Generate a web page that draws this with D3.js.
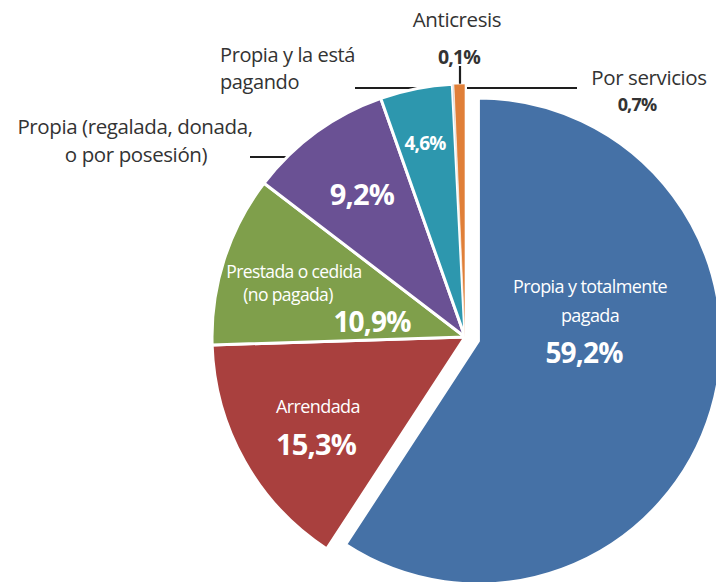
<!DOCTYPE html>
<html>
<head>
<meta charset="utf-8">
<script src="https://cdn.jsdelivr.net/npm/d3@7"></script>
<style>
  html, body { margin: 0; padding: 0; background: #fff; }
  svg { display: block; }
</style>
</head>
<body>
<svg id="chart" width="716" height="582"></svg>
<script>
// Tipo de tenencia de la vivienda (%)
const categories = [
  "Propia y totalmente pagada",
  "Arrendada",
  "Prestada o cedida (no pagada)",
  "Propia (regalada, donada, o por posesión)",
  "Propia y la está pagando",
  "Anticresis",
  "Por servicios"
];
const shares = [59.2, 15.3, 10.9, 9.2, 4.6, 0.1, 0.7];
const sliceColors = ["#4571a6", "#a9403e", "#7f9f4b", "#6a5194", "#2d97ae", "#c9c9c9", "#e07f38"];

// Label text per slice: name lines inside or outside the pie
const nameLines = [
  ["Propia y totalmente", "pagada"],
  ["Arrendada"],
  ["Prestada o cedida", "(no pagada)"],
  ["Propia (regalada, donada,", "o por posesión)"],
  ["Propia y la está", "pagando"],
  ["Anticresis"],
  ["Por servicios"]
];

const fmt = v => d3.format(".1f")(v).replace(".", ",") + "%";

// ---- layout ----
const cx = 465, cy = 337;
const R = 253;          // radius of the attached slices
const R_EXPLODED = 243; // radius of the pulled-out slice
const EXPLODE = 14;

const svg = d3.select("#chart");
const g = svg.append("g").attr("transform", `translate(${cx},${cy})`);

const pie = d3.pie().sort(null).value(d => d);
const arcs = pie(shares);

const arcSmall = d3.arc().innerRadius(0).outerRadius(R);
const arcBig = d3.arc().innerRadius(0).outerRadius(R_EXPLODED);

// point on the rim of the pie for a leader at height dy (left side) or at dx (top)
const rimX = dy => -Math.sqrt(R * R - dy * dy);
const rimY = dx => -Math.sqrt(R * R - dx * dx);

// leader lines, coordinates relative to the pie centre
const leaders = [
  { x1: 355 - cx, y1: 88 - cy, x2: rimX(88 - cy), y2: 88 - cy },
  { x1: 250 - cx, y1: 157 - cy, x2: rimX(157 - cy), y2: 157 - cy },
  { x1: 460 - cx, y1: 66 - cy, x2: 460 - cx, y2: rimY(460 - cx) },
  { x1: 467 - cx, y1: 88 - cy, x2: 577 - cx, y2: 88 - cy }
];

g.selectAll("line.leader").data(leaders).join("line")
  .attr("class", "leader")
  .attr("x1", d => d.x1).attr("y1", d => d.y1)
  .attr("x2", d => d.x2).attr("y2", d => d.y2)
  .attr("stroke", "#1e1e1e").attr("stroke-width", 2.2);

// slices
g.selectAll("path.slice").data(arcs).join("path")
  .attr("class", "slice")
  .attr("d", (d, i) => i === 0 ? arcBig(d) : arcSmall(d))
  .attr("transform", (d, i) => {
    if (i !== 0) return null;
    const mid = (d.startAngle + d.endAngle) / 2;
    return `translate(${Math.sin(mid) * EXPLODE},${-Math.cos(mid) * EXPLODE})`;
  })
  .attr("fill", (d, i) => sliceColors[i])
  .attr("stroke", "#fff")
  .attr("stroke-width", (d, i) => (i >= 5 ? 0.6 : 3))
  .attr("stroke-linejoin", "round");

// text placement (offsets from the pie centre)
const FONT = "'Open Sans', 'DejaVu Sans', sans-serif";
const labelLayout = [
  { name: [[125, -50], [125, -21]], nameSize: 18, value: [119, 16], valueSize: 28, color: "#fff", anchor: "middle" },
  { name: [[-147, 70]], nameSize: 18, value: [-149, 108], valueSize: 29, color: "#fff", anchor: "middle" },
  { name: [[-171, -65], [-177, -42]], nameSize: 17.5, value: [-93, -15], valueSize: 28, color: "#fff", anchor: "middle" },
  { name: [[-330, -210], [-329, -182]], nameSize: 20.5, value: [-103, -142], valueSize: 29, color: "#333", valueColor: "#fff", anchor: "middle" },
  { name: [[-245, -282], [-245, -255]], nameSize: 20, value: [-40, -194], valueSize: 19, color: "#333", valueColor: "#fff", anchor: "start" },
  { name: [[-8, -317]], nameSize: 20.5, value: [-6, -280], valueSize: 19.5, color: "#333", anchor: "middle" },
  { name: [[184, -259]], nameSize: 20.5, value: [172, -232], valueSize: 18, color: "#333", anchor: "middle" }
];

labelLayout.forEach((L, i) => {
  const inside = L.color === "#fff";
  nameLines[i].forEach((txt, k) => {
    g.append("text")
      .attr("x", L.name[k][0]).attr("y", L.name[k][1])
      .attr("dy", "0.35em")
      .attr("text-anchor", L.anchor)
      .attr("font-family", FONT)
      .attr("font-size", L.nameSize)
      .attr("letter-spacing", inside ? -0.6 : -0.4)
      .attr("fill", L.color)
      .text(txt);
  });
  g.append("text")
    .attr("x", L.value[0]).attr("y", L.value[1])
    .attr("dy", "0.35em")
    .attr("text-anchor", "middle")
    .attr("font-family", FONT)
    .attr("font-weight", 700)
    .attr("font-size", L.valueSize)
    .attr("letter-spacing", -0.8)
    .attr("fill", L.valueColor || L.color)
    .text(fmt(shares[i]));
});
</script>
</body>
</html>
